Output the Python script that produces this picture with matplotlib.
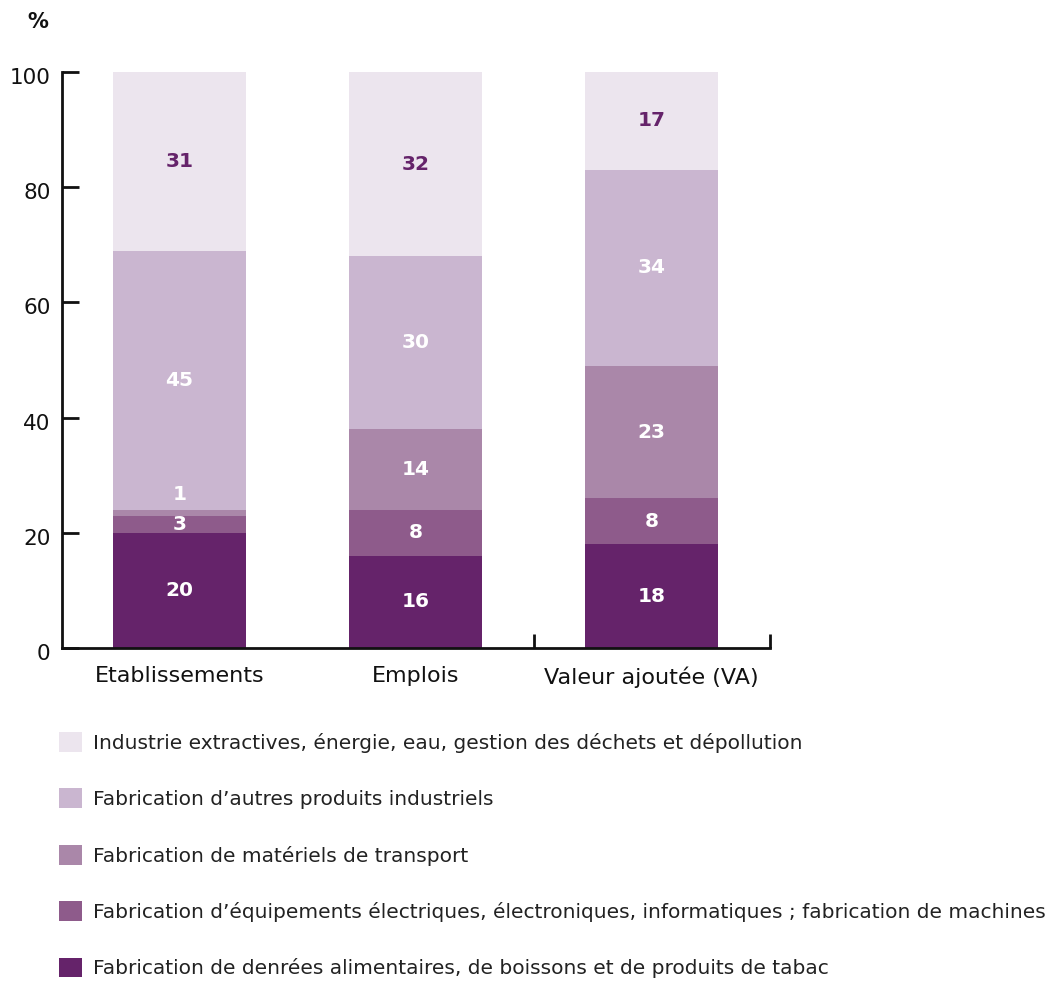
import matplotlib
matplotlib.use("Agg")
import matplotlib.pyplot as plt
import matplotlib.transforms as mtransforms
import numpy as np

plt.rcParams['font.family'] = ['DejaVu Sans']

categories = ["Etablissements", "Emplois", "Valeur ajoutée (VA)"]
series_names = [
    "Fabrication de denrées alimentaires, de boissons et de produits de tabac",
    "Fabrication d’équipements électriques, électroniques, informatiques ; fabrication de machines",
    "Fabrication de matériels de transport",
    "Fabrication d’autres produits industriels",
    "Industrie extractives, énergie, eau, gestion des déchets et dépollution",
]
alimentaire = [20, 16, 18]
equipements = [3, 8, 8]
transport = [1, 14, 23]
autres = [45, 30, 34]
extractives = [31, 32, 17]
y_ticks = [0, 20, 40, 60, 80, 100]

colors = ["#65236a", "#8e5b8b", "#aa87a9", "#cab6d0", "#ece5ee"]
label_colors = ["white", "white", "white", "white", "#65236a"]

series = [alimentaire, equipements, transport, autres, extractives]

fig = plt.figure(figsize=(10.58, 9.81), dpi=100)
ax = fig.add_axes([61.5 / 1058, 1 - 648 / 981, 708 / 1058, 576 / 981])

x = np.arange(len(categories))
width = 0.5636
bottom = np.zeros(len(categories))
handles = []
for vals, col, lc in zip(series, colors, label_colors):
    vals = np.array(vals, dtype=float)
    bars = ax.bar(x, vals, width, bottom=bottom, color=col, linewidth=0)
    handles.append(bars)
    for xi, b, v in zip(x, bottom, vals):
        yc = b + v / 2
        if v < 2:
            yc = b + v + 2.6
        ax.text(xi, yc, f"{int(v)}", ha="center", va="center",
                color=lc, fontsize=14.5, fontweight="bold")
    bottom += vals

ax.set_xlim(-0.5, 2.5)
ax.set_ylim(0, 100)
ax.set_yticks(y_ticks)
ax.set_yticklabels([str(t) for t in y_ticks])
ax.set_xticks(x)
ax.set_xticklabels(categories)
ax.set_xticks([1.5, 2.5], minor=True)

for s in ["top", "right"]:
    ax.spines[s].set_visible(False)
for s in ["left", "bottom"]:
    ax.spines[s].set_linewidth(2)
    ax.spines[s].set_color("#111111")

ax.tick_params(axis="y", direction="in", length=12, width=2, labelsize=15.5,
               pad=8, colors="#111111")
ax.tick_params(axis="x", which="major", length=0, labelsize=16, pad=13,
               colors="#111111")
ax.tick_params(axis="x", which="minor", direction="in", length=10, width=2,
               colors="#111111")

offset = mtransforms.ScaledTranslation(0, -4 / 100, fig.dpi_scale_trans)
for lab in ax.get_yticklabels():
    lab.set_transform(lab.get_transform() + offset)

fig.text(38 / 1058, 1 - 22 / 981, "%", ha="center", va="center",
         fontsize=15, fontweight="bold", color="#111111")

leg = fig.legend(handles[::-1], series_names[::-1], loc="upper left",
                 bbox_to_anchor=(59 / 1058, 1 - 732 / 981), frameon=False,
                 fontsize=14.5, handlelength=1.14, handleheight=1.14,
                 handletextpad=0.55, labelspacing=1.77, borderpad=0,
                 borderaxespad=0)
for t in leg.get_texts():
    t.set_color("#222222")

fig.savefig("out.png", dpi=100)
